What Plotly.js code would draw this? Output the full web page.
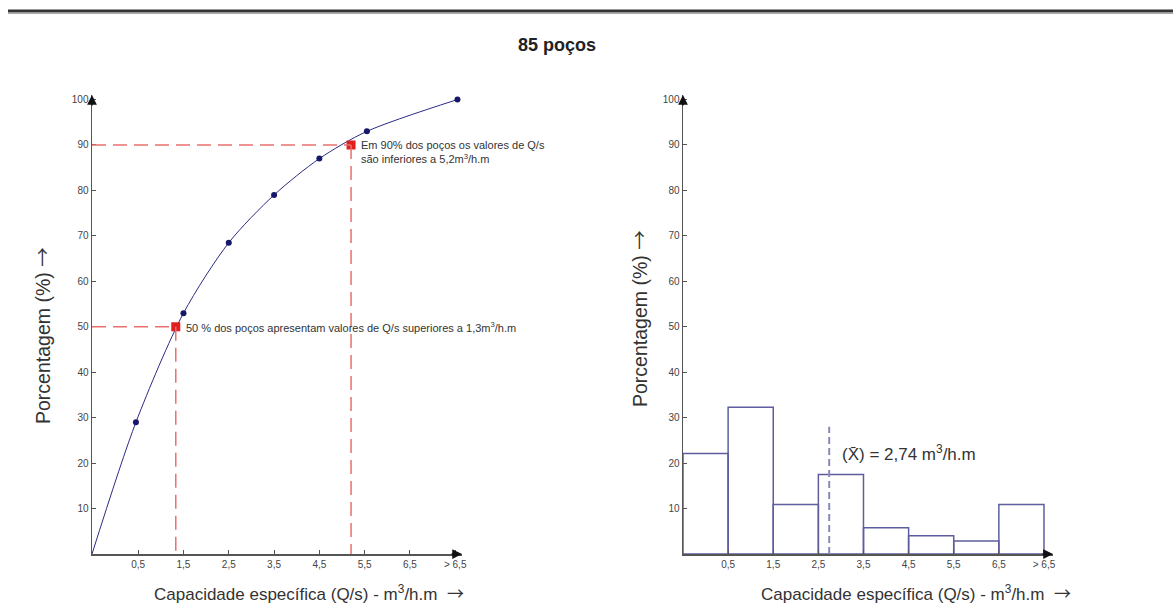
<!DOCTYPE html>
<html>
<head>
<meta charset="utf-8">
<script src="https://cdn.plot.ly/plotly-3.0.1.min.js"></script>
<style>html,body{margin:0;padding:0;background:#fff;}#chart{width:1173px;height:616px;}</style>
</head>
<body>
<div id="chart"></div>
<script>
// ---- data ----
const tickPositions = [0.5, 1.5, 2.5, 3.5, 4.5, 5.5, 6.5, 7.5];
const tickLabels = ["0,5", "1,5", "2,5", "3,5", "4,5", "5,5", "6,5", "> 6,5"];
const yTicks = [10, 20, 30, 40, 50, 60, 70, 80, 90, 100];

// cumulative curve (left)
const cumX = [0.45, 1.5, 2.5, 3.5, 4.5, 5.55, 7.55];
const cumY = [29, 53, 68.5, 79, 87, 93, 100];
const curveX = [-0.52, 0.45, 1.5, 2.5, 3.5, 4.5, 5.55, 7.55];
const curveY = [0, 29, 53, 68.5, 79, 87, 93, 100];

// highlighted quantiles (left)
const quantX = [1.33, 5.2];
const quantY = [50, 90];
const quantText = [
  "50 % dos poços apresentam valores de Q/s superiores a 1,3m<sup>3</sup>/h.m",
  "Em 90% dos poços os valores de Q/s<br>são inferiores a 5,2m<sup>3</sup>/h.m"
];

// histogram (right)
const binCenters = [0, 1, 2, 3, 4, 5, 6, 7];
const binValues = [22.1, 32.3, 10.9, 17.5, 5.8, 4.0, 2.85, 10.9];
const meanValue = 2.74;
const meanLabel = "(X\u0304) = 2,74 m<sup>3</sup>/h.m";

// ---- layout helpers ----
const W = 1173, H = 616;
const px = v => v / W;
const py = v => 1 - v / H;
const leftRange = [-0.52, 7.65];
const rightRange = [-0.5, 7.7];
const yRange = [0, 101];
const font = "Liberation Sans, Arial, sans-serif";
const arrow = '<span style="font-family:Noto Sans CJK JP">\u2192</span>';

function xAxis(domain, range, anchor) {
  return {
    domain: domain, range: range, anchor: anchor,
    tickmode: "array", tickvals: tickPositions, ticktext: tickLabels,
    ticks: "inside", ticklen: 4, tickcolor: "#555", tickwidth: 1,
    showline: true, linecolor: "#555", linewidth: 2,
    showgrid: false, zeroline: false,
    tickfont: {family: font, size: 10, color: "#444"}
  };
}
function yAxis(domain, anchor) {
  return {
    domain: domain, range: yRange, anchor: anchor,
    tickmode: "array", tickvals: yTicks, ticktext: yTicks.map(String),
    ticks: "inside", ticklen: 4, tickcolor: "#555", tickwidth: 1,
    showline: true, linecolor: "#555", linewidth: 1.5,
    showgrid: false, zeroline: false,
    tickfont: {family: font, size: 10, color: "#444"}
  };
}

const traces = [
  {x: curveX, y: curveY, type: "scatter", mode: "lines", line: {color: "#2b2b84", width: 1, shape: "spline", smoothing: 0.8},
   xaxis: "x", yaxis: "y", hoverinfo: "skip"},
  {x: cumX, y: cumY, type: "scatter", mode: "markers", marker: {color: "#16166a", size: 6},
   xaxis: "x", yaxis: "y"},
  {x: quantX, y: quantY, type: "scatter", mode: "markers", marker: {color: "#e0201e", size: 9, symbol: "square"},
   xaxis: "x", yaxis: "y"},
  {x: binCenters, y: binValues, type: "bar", width: 1,
   marker: {color: "rgba(255,255,255,0)", line: {color: "#5e5e9e", width: 1.5}},
   xaxis: "x2", yaxis: "y2"}
];

const shapes = [
  // top rule
  {type: "line", xref: "paper", yref: "paper", x0: px(8), x1: 1, y0: py(11), y1: py(11), line: {color: "#333", width: 3}},
  {type: "line", xref: "paper", yref: "paper", x0: px(8), x1: 1, y0: py(13.5), y1: py(13.5), line: {color: "#aaa", width: 1}},
  // mean line
  {type: "line", xref: "x2", yref: "y2", x0: meanValue, x1: meanValue, y0: 0, y1: 28,
   line: {color: "#8a8ab6", width: 2, dash: "7px,4px"}}
];
quantX.forEach((qx, i) => {
  shapes.push({type: "line", xref: "x", yref: "y", x0: leftRange[0], x1: qx, y0: quantY[i], y1: quantY[i],
    line: {color: "#e8706e", width: 1.5, dash: "14px,7px"}});
  shapes.push({type: "line", xref: "x", yref: "y", x0: qx, x1: qx, y0: quantY[i], y1: 0,
    line: {color: "#e8706e", width: 1.5, dash: "14px,7px"}});
});

const annotations = [
  {xref: "x", yref: "y", x: quantX[0], y: quantY[0], text: quantText[0], showarrow: false,
   xanchor: "left", yanchor: "middle", xshift: 8, font: {family: font, size: 11, color: "#333"}},
  {xref: "x", yref: "y", x: quantX[1], y: quantY[1], text: quantText[1], showarrow: false, align: "left",
   xanchor: "left", yanchor: "top", xshift: 8, yshift: 8, font: {family: font, size: 11, color: "#333"}},
  {xref: "x2", yref: "y2", x: meanValue, y: 22.3, text: meanLabel, showarrow: false,
   xanchor: "left", yanchor: "middle", xshift: 11, font: {family: font, size: 17, color: "#333"}},
  // axis titles
  {xref: "paper", yref: "paper", x: px(309), y: py(592), text: "Capacidade específica (Q/s) - m<sup>3</sup>/h.m  " + arrow,
   showarrow: false, xanchor: "center", yanchor: "middle", font: {family: font, size: 17, color: "#333"}},
  {xref: "paper", yref: "paper", x: px(916), y: py(592), text: "Capacidade específica (Q/s) - m<sup>3</sup>/h.m  " + arrow,
   showarrow: false, xanchor: "center", yanchor: "middle", font: {family: font, size: 17, color: "#333"}},
  {xref: "paper", yref: "paper", x: px(41), y: py(336), text: "Porcentagem (%) " + arrow, textangle: -90,
   showarrow: false, xanchor: "center", yanchor: "middle", font: {family: font, size: 19.5, color: "#333"}},
  {xref: "paper", yref: "paper", x: px(638), y: py(319), text: "Porcentagem (%) " + arrow, textangle: -90,
   showarrow: false, xanchor: "center", yanchor: "middle", font: {family: font, size: 19.5, color: "#333"}}
];
// axis arrowheads
[["x", "y", leftRange], ["x2", "y2", rightRange]].forEach(([xa, ya, r]) => {
  annotations.push({xref: xa, yref: ya, x: r[1], y: 0, ax: -12, ay: 0, text: "", showarrow: true,
    arrowhead: 2, arrowsize: 1.3, arrowwidth: 1.5, arrowcolor: "#111"});
  annotations.push({xref: xa, yref: ya, x: r[0], y: yRange[1], ax: 0, ay: 12, text: "", showarrow: true,
    arrowhead: 2, arrowsize: 1.3, arrowwidth: 1.5, arrowcolor: "#111"});
});

const yDom = [py(554), py(95)];
const layout = {
  width: W, height: H,
  margin: {l: 0, r: 0, t: 0, b: 0},
  paper_bgcolor: "#fff", plot_bgcolor: "#fff",
  showlegend: false,
  title: {text: "<b>85 poços</b>", x: px(557), y: py(45), xanchor: "center", yanchor: "middle",
          font: {family: font, size: 18, color: "#222"}},
  xaxis: xAxis([px(92), px(462)], leftRange, "y"),
  yaxis: yAxis(yDom, "x"),
  xaxis2: xAxis([px(683), px(1053)], rightRange, "y2"),
  yaxis2: yAxis(yDom, "x2"),
  shapes: shapes,
  annotations: annotations,
  bargap: 0
};

Plotly.newPlot("chart", traces, layout, {displayModeBar: false, staticPlot: true});
</script>
</body>
</html>
